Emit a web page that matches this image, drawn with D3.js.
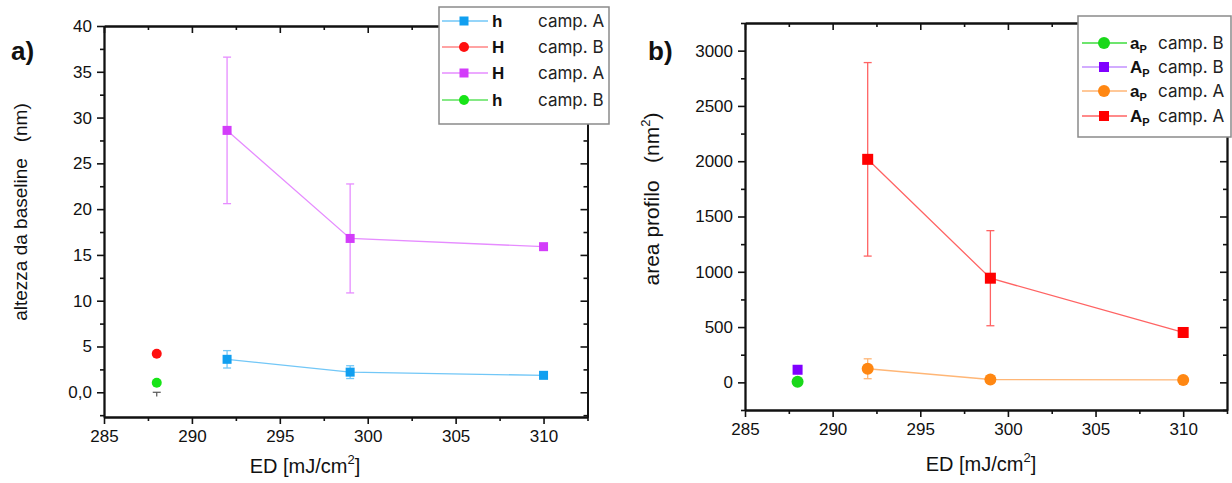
<!DOCTYPE html>
<html><head><meta charset="utf-8">
<script src="https://cdn.jsdelivr.net/npm/d3@7"></script>
<style>
body{margin:0;background:#fff;}
svg{display:block;}
.tick text{font-family:"Liberation Sans",Arial,sans-serif;font-size:17px;fill:#111;}
</style></head><body>
<svg id="c" width="1232" height="483"></svg>
<script>
// ---------- data ----------
const xTickValues = [285, 290, 295, 300, 305, 310];
const edCampA = [292, 299, 310];
const edCampB = [288];

// panel a) altezza da baseline (nm)
const h_campA = [3.6, 2.2, 1.85];
const h_campA_err = [0.95, 0.7, 0];
const H_campA = [28.6, 16.8, 15.9];
const H_campA_err = [8.0, 5.95, 0];
const H_campB = [4.2];
const h_campB = [1.05];
const strayErrLow = [-0.45];
const strayErrHigh = [0];
const yTicksA = [0, 5, 10, 15, 20, 25, 30, 35, 40];
const yTickLabelsA = ["0,0", "5", "10", "15", "20", "25", "30", "35", "40"];

// panel b) area profilo (nm^2)
const aP_campB = [5];
const AP_campB = [114];
const aP_campA = [123, 26, 22];
const aP_campA_err = [90, 0, 0];
const AP_campA = [2017, 942, 451];
const AP_campA_err = [875, 430, 0];
const yTicksB = [0, 500, 1000, 1500, 2000, 2500, 3000];

// ---------- drawing ----------
const svg = d3.select("#c");
const FONT = '"Liberation Sans",Arial,sans-serif';

function panel(cfg) {
  const g = svg.append("g");
  const x = d3.scaleLinear().domain([285, 312.5]).range([cfg.x0, cfg.x1]);
  const y = d3.scaleLinear().domain(cfg.yDomain).range([cfg.y1, cfg.y0]);
  const xMinor = d3.range(285, 312.6, 2.5).filter(v => !xTickValues.includes(v));
  const yMinor = d3.range(cfg.yMinorStart, cfg.yDomain[1] + 0.001, cfg.yMinorStep).filter(v => !cfg.yTicks.includes(v) && v >= cfg.yDomain[0]);

  const ax = (gen, tx, ty) => {
    const a = g.append("g").attr("transform", `translate(${tx},${ty})`).call(gen);
    a.select(".domain").attr("stroke", "#111").attr("stroke-width", 1.8);
    a.selectAll(".tick line").attr("stroke", "#111").attr("stroke-width", 1.6);
    return a;
  };
  // bottom
  ax(d3.axisBottom(x).tickValues(xTickValues).tickSize(7).tickSizeOuter(0).tickPadding(6).tickFormat(d3.format("d")), 0, cfg.y1);
  ax(d3.axisBottom(x).tickValues(xMinor).tickSize(4).tickSizeOuter(0).tickFormat(""), 0, cfg.y1);
  // top (inward)
  ax(d3.axisBottom(x).tickValues(xTickValues).tickSize(7).tickSizeOuter(0).tickFormat(""), 0, cfg.y0);
  ax(d3.axisBottom(x).tickValues(xMinor).tickSize(4).tickSizeOuter(0).tickFormat(""), 0, cfg.y0);
  // left
  ax(d3.axisLeft(y).tickValues(cfg.yTicks).tickSize(7).tickSizeOuter(0).tickPadding(5).tickFormat((d, i) => cfg.yLabels[i]), cfg.x0, 0);
  ax(d3.axisLeft(y).tickValues(yMinor).tickSize(4).tickSizeOuter(0).tickFormat(""), cfg.x0, 0);
  // right (inward)
  ax(d3.axisLeft(y).tickValues(cfg.yTicks).tickSize(7).tickSizeOuter(0).tickFormat(""), cfg.x1, 0);
  ax(d3.axisLeft(y).tickValues(yMinor).tickSize(4).tickSizeOuter(0).tickFormat(""), cfg.x1, 0);

  const plot = g.append("g");
  cfg.series.forEach(s => {
    const pts = s.xs.map((xv, i) => ({x: xv, y: s.ys[i], e: s.err ? s.err[i] : 0}));
    if (pts.length > 1) {
      plot.append("path").datum(pts)
        .attr("d", d3.line().x(d => x(d.x)).y(d => y(d.y)))
        .attr("fill", "none").attr("stroke", s.line).attr("stroke-width", 1.3);
    }
    pts.filter(d => d.e > 0).forEach(d => {
      const eg = plot.append("g").attr("stroke", s.line).attr("stroke-width", 1.3);
      eg.append("line").attr("x1", x(d.x)).attr("x2", x(d.x)).attr("y1", y(d.y - d.e)).attr("y2", y(d.y + d.e));
      [d.y - d.e, d.y + d.e].forEach(v => eg.append("line").attr("x1", x(d.x) - 4).attr("x2", x(d.x) + 4).attr("y1", y(v)).attr("y2", y(v)));
    });
  });
  if (cfg.stray) {
    cfg.stray.xs.forEach((xv, i) => {
      const eg = plot.append("g").attr("stroke", "#555").attr("stroke-width", 1.2);
      eg.append("line").attr("x1", x(xv)).attr("x2", x(xv)).attr("y1", y(cfg.stray.lo[i])).attr("y2", y(cfg.stray.hi[i]));
      eg.append("line").attr("x1", x(xv) - 4).attr("x2", x(xv) + 4).attr("y1", y(cfg.stray.hi[i])).attr("y2", y(cfg.stray.hi[i]));
    });
  }
  cfg.series.forEach(s => {
    s.xs.forEach((xv, i) => drawMarker(plot, s.shape, x(xv), y(s.ys[i]), s.size, s.fill));
  });

  // labels
  g.append("text").attr("x", cfg.tag[0]).attr("y", cfg.tag[1]).text(cfg.tagText)
    .attr("font-family", FONT).attr("font-weight", "bold").attr("font-size", 26).attr("fill", "#111");
  const yt = g.append("text").attr("transform", `translate(${cfg.yTitlePos[0]},${cfg.yTitlePos[1]}) rotate(-90)`)
    .attr("text-anchor", "middle").attr("font-family", FONT).attr("font-size", cfg.yTitleSize).attr("fill", "#111")
    .attr("xml:space", "preserve").attr("dy", "0.35em");
  cfg.yTitle(yt);
  const xt = g.append("text").attr("x", cfg.xTitlePos[0]).attr("y", cfg.xTitlePos[1]).attr("text-anchor", "middle")
    .attr("font-family", FONT).attr("font-size", 20).attr("fill", "#111");
  xt.append("tspan").text("ED [mJ/cm");
  xt.append("tspan").text("2").attr("font-size", 13).attr("dy", -9);
  xt.append("tspan").text("]").attr("dy", 9);
  return g;
}

function drawMarker(p, shape, cx, cy, size, fill) {
  if (shape === "square") {
    p.append("rect").attr("x", cx - size / 2).attr("y", cy - size / 2).attr("width", size).attr("height", size).attr("fill", fill);
  } else {
    p.append("circle").attr("cx", cx).attr("cy", cy).attr("r", size / 2).attr("fill", fill);
  }
}

// colors
const C = {
  blue: ["#119ff0", "#72c7f7"], red: ["#ff1010", "#ff8585"], magenta: ["#d33cfa", "#e68cff"], green: ["#17e417", "#5ce25c"],
  gB: ["#1ad81a", "#3ddd3d"], purple: ["#8000ff", "#c391ff"], orange: ["#ff8712", "#ffb676"], redB: ["#ff0000", "#ff6363"]
};

panel({
  x0: 104, x1: 587.5, y0: 26, y1: 417, yDomain: [-2.7, 40], yTicks: yTicksA, yLabels: yTickLabelsA,
  yMinorStart: -2.5, yMinorStep: 2.5,
  series: [
    {xs: edCampA, ys: h_campA, err: h_campA_err, shape: "square", size: 9, fill: C.blue[0], line: C.blue[1]},
    {xs: edCampA, ys: H_campA, err: H_campA_err, shape: "square", size: 9, fill: C.magenta[0], line: C.magenta[1]},
    {xs: edCampB, ys: H_campB, shape: "circle", size: 10, fill: C.red[0], line: C.red[1]},
    {xs: edCampB, ys: h_campB, shape: "circle", size: 10, fill: C.green[0], line: C.green[1]}
  ],
  stray: {xs: edCampB, lo: strayErrLow, hi: strayErrHigh},
  tag: [11, 60], tagText: "a)",
  yTitlePos: [20, 212], yTitleSize: 19,
  yTitle: t => t.text("altezza da baseline   (nm)"),
  xTitlePos: [305, 473]
});

panel({
  x0: 745, x1: 1227, y0: 23, y1: 410, yDomain: [-250, 3250], yTicks: yTicksB, yLabels: yTicksB.map(String),
  yMinorStart: -250, yMinorStep: 250,
  series: [
    {xs: edCampA, ys: AP_campA, err: AP_campA_err, shape: "square", size: 11, fill: C.redB[0], line: C.redB[1]},
    {xs: edCampA, ys: aP_campA, err: aP_campA_err, shape: "circle", size: 12, fill: C.orange[0], line: C.orange[1]},
    {xs: edCampB, ys: AP_campB, shape: "square", size: 10, fill: C.purple[0], line: C.purple[1]},
    {xs: edCampB, ys: aP_campB, shape: "circle", size: 12, fill: C.gB[0], line: C.gB[1]}
  ],
  tag: [648, 60], tagText: "b)",
  yTitlePos: [652, 199], yTitleSize: 21,
  yTitle: t => { t.append("tspan").text("area profilo   (nm"); t.append("tspan").text("2").attr("font-size", 13).attr("dy", -9); t.append("tspan").text(")").attr("dy", 9); },
  xTitlePos: [981, 471]
});

// ---------- legends ----------
const LFONT = 'Inter,"Noto Sans",sans-serif';
function legend(box, rows, lineX, markX, labX, campX) {
  const g = svg.append("g");
  g.append("rect").attr("x", box[0]).attr("y", box[1]).attr("width", box[2]).attr("height", box[3])
    .attr("fill", "#fff").attr("stroke", "#8a8a8a").attr("stroke-width", 1.5);
  rows.forEach(r => {
    g.append("line").attr("x1", lineX[0]).attr("x2", lineX[1]).attr("y1", r.y).attr("y2", r.y).attr("stroke", r.line).attr("stroke-width", 1.3);
    drawMarker(g, r.shape, markX, r.y, r.size, r.fill);
    const t = g.append("text").attr("x", labX).attr("y", r.y).attr("dy", "0.36em").attr("font-family", FONT)
      .attr("font-weight", "bold").attr("font-size", 17).attr("fill", "#111");
    t.append("tspan").text(r.label);
    if (r.sub) t.append("tspan").text(r.sub).attr("font-size", 11).attr("dy", 4);
    g.append("text").attr("x", campX).attr("y", r.y).attr("dy", "0.36em").attr("font-family", LFONT)
      .attr("font-size", 17).attr("fill", "#222").text(r.camp);
  });
}
legend([439, 7, 170, 117], [
  {y: 21, label: "h", camp: "camp. A", shape: "square", size: 9, fill: C.blue[0], line: C.blue[1]},
  {y: 47, label: "H", camp: "camp. B", shape: "circle", size: 10, fill: C.red[0], line: C.red[1]},
  {y: 73, label: "H", camp: "camp. A", shape: "square", size: 9, fill: C.magenta[0], line: C.magenta[1]},
  {y: 100, label: "h", camp: "camp. B", shape: "circle", size: 10, fill: C.green[0], line: C.green[1]}
], [442, 488], 464, 492, 538);
legend([1078, 16, 153, 121], [
  {y: 43, label: "a", sub: "P", camp: "camp. B", shape: "circle", size: 12, fill: C.gB[0], line: C.gB[1]},
  {y: 67, label: "A", sub: "P", camp: "camp. B", shape: "square", size: 10, fill: C.purple[0], line: C.purple[1]},
  {y: 91, label: "a", sub: "P", camp: "camp. A", shape: "circle", size: 12, fill: C.orange[0], line: C.orange[1]},
  {y: 116, label: "A", sub: "P", camp: "camp. A", shape: "square", size: 10, fill: C.redB[0], line: C.redB[1]}
], [1082, 1127], 1104, 1130, 1158);
</script>
</body></html>
